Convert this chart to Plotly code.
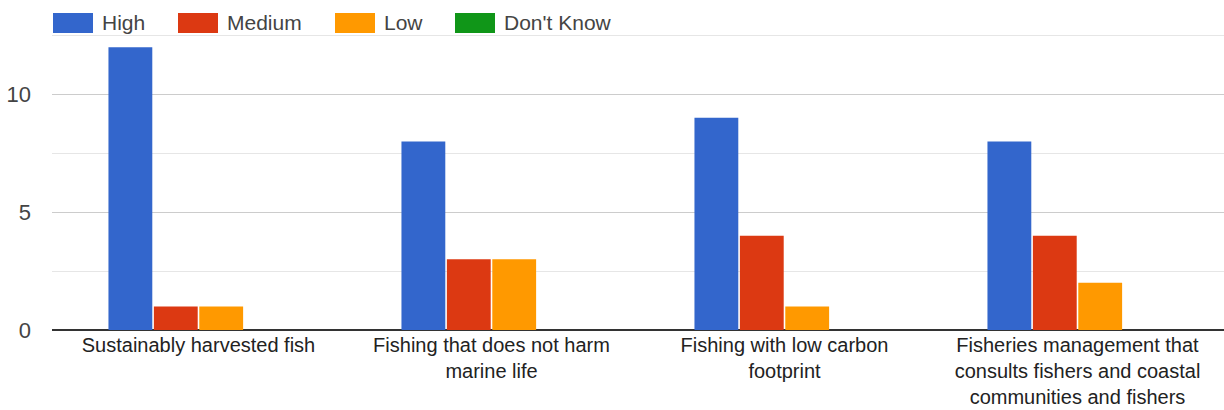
import plotly.graph_objects as go

# Survey responses: perceived importance of each fishing attribute
categories = [
    "Sustainably harvested fish",
    "Fishing that does not harm<br>marine life",
    "Fishing with low carbon<br>footprint",
    "Fisheries management that<br>consults fishers and coastal<br>communities and fishers",
]
series_names = ["High", "Medium", "Low", "Don't Know"]
high = [12, 8, 9, 8]
medium = [1, 3, 4, 4]
low = [1, 3, 1, 2]
dont_know = [0, 0, 0, 0]
y_ticks = [0, 5, 10]

colors = ["#3366CC", "#DC3912", "#FF9900", "#109618"]
FONT = "Liberation Sans, Arial, sans-serif"
TEXT = "#444444"

W, H = 1224, 410
M_L, M_R, M_T, M_B = 52, 0, 33, 80

fig = go.Figure()
for name, vals, col in zip(series_names, [high, medium, low, dont_know], colors):
    fig.add_trace(go.Bar(
        name=name, x=categories, y=vals,
        marker=dict(color=col, line=dict(width=0)),
        showlegend=False,
    ))

# Legend drawn as swatch rectangles plus text, positioned in pixels
plot_w = W - M_L - M_R
plot_h = H - M_T - M_B


def px_x(px):
    return (px - M_L) / plot_w


def px_y(py):
    return (H - M_B - py) / plot_h


legend_swatch_left = [53, 178, 335, 455]
swatch_w, swatch_top, swatch_bot = 40, 13, 33
shapes = []
annotations = []
for name, col, sx in zip(series_names, colors, legend_swatch_left):
    shapes.append(dict(
        type="rect", xref="paper", yref="paper",
        x0=px_x(sx), x1=px_x(sx + swatch_w),
        y0=px_y(swatch_bot), y1=px_y(swatch_top),
        fillcolor=col, line=dict(width=0),
    ))
    annotations.append(dict(
        xref="paper", yref="paper",
        x=px_x(sx + swatch_w + 7), y=px_y((swatch_top + swatch_bot) / 2),
        xanchor="left", yanchor="middle", showarrow=False,
        text=name, font=dict(family=FONT, size=21, color=TEXT),
    ))

fig.update_layout(
    width=W, height=H,
    margin=dict(l=M_L, r=M_R, t=M_T, b=M_B, pad=0),
    paper_bgcolor="white", plot_bgcolor="white",
    barmode="group", bargap=0.38, bargroupgap=0.035,
    font=dict(family=FONT, size=21, color=TEXT),
    shapes=shapes, annotations=annotations,
    showlegend=False,
)
fig.update_xaxes(
    automargin=False,
    showgrid=False, showline=False, ticks="",
    ticklabelstandoff=1,
    tickfont=dict(family=FONT, size=20, color="#222222"),
)
fig.update_yaxes(
    automargin=False,
    range=[0, 12.6], tickvals=y_ticks,
    showgrid=True, gridcolor="#cccccc", gridwidth=1,
    minor=dict(dtick=2.5, tick0=0, showgrid=True, gridcolor="#e6e6e6", gridwidth=1),
    zeroline=True, zerolinecolor="#333333", zerolinewidth=2,
    ticks="", ticklabelstandoff=20,
    tickfont=dict(family=FONT, size=22, color=TEXT),
)

fig.write_html("out.html")
